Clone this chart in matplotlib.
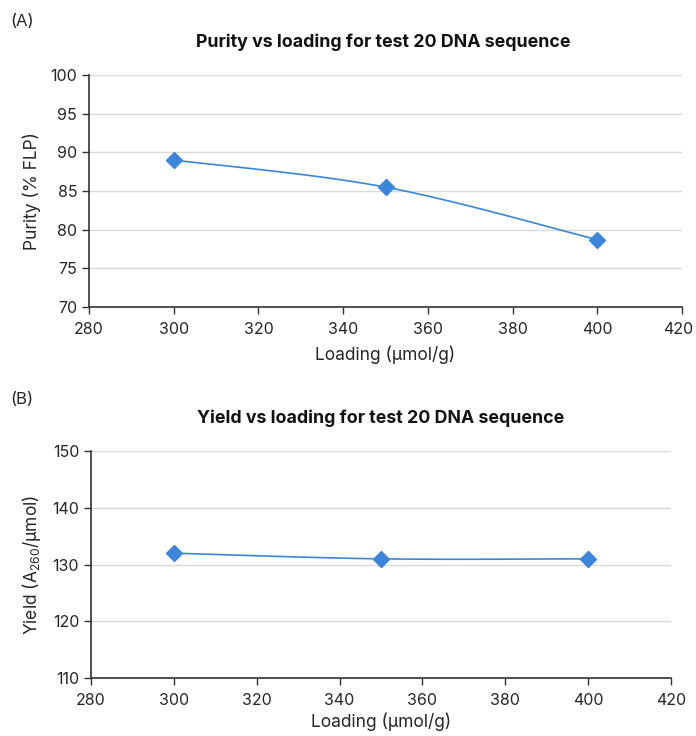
import numpy as np
import matplotlib
matplotlib.use("Agg")
import matplotlib.pyplot as plt
import matplotlib.transforms as mtransforms

plt.rcParams['font.family'] = ['Inter', 'DejaVu Sans']
plt.rcParams['mathtext.fontset'] = 'custom'
plt.rcParams['mathtext.rm'] = 'Inter'
plt.rcParams['mathtext.it'] = 'Inter'

# data
loading = [300, 350, 400]
purity = [89.0, 85.5, 78.7]
yield_a260 = [132.0, 131.0, 131.0]

blue = '#3B86DB'
gridc = '#D9D9D9'
axc = '#333333'
txtc = '#262626'


# Excel-like smoothed line (Catmull-Rom through the points)
def smooth(x, y, n=40):
    x = np.asarray(x, float)
    y = np.asarray(y, float)
    px = np.concatenate([[x[0]], x, [x[-1]]])
    py = np.concatenate([[y[0]], y, [y[-1]]])
    xs, ys = [], []
    t = np.linspace(0, 1, n)
    for i in range(1, len(px) - 2):
        p0, p1, p2, p3 = (np.array([px[j], py[j]]) for j in range(i - 1, i + 3))
        c1 = p1 + (p2 - p0) / 6
        c2 = p2 - (p3 - p1) / 6
        for tt in t:
            pt = ((1 - tt) ** 3 * p1 + 3 * (1 - tt) ** 2 * tt * c1
                  + 3 * (1 - tt) * tt ** 2 * c2 + tt ** 3 * p2)
            xs.append(pt[0])
            ys.append(pt[1])
    return xs, ys


def style(ax, ylim, ystep):
    ax.set_xlim(280, 420)
    ax.set_xticks(np.arange(280, 421, 20))
    ax.set_ylim(*ylim)
    ax.set_yticks(np.arange(ylim[0], ylim[1] + 0.1, ystep))
    ax.grid(axis='y', color=gridc, linewidth=1)
    ax.set_axisbelow(True)
    for s in ['top', 'right']:
        ax.spines[s].set_visible(False)
    for s in ['left', 'bottom']:
        ax.spines[s].set_color(axc)
        ax.spines[s].set_linewidth(1.2)
    ax.tick_params(colors=axc, labelcolor=txtc, labelsize=11.5,
                   length=5, width=1)
    ax.tick_params(axis='x', pad=6)


fig = plt.figure(figsize=(6.96, 7.36), dpi=100)

ax1 = fig.add_axes([0.1279, 0.5829, 0.8520, 0.3152])
sx, sy = smooth(loading, purity)
ax1.plot(sx, sy, color=blue, linewidth=1.2)
ax1.plot(loading, purity, linestyle='none', marker='D', markersize=8,
         color=blue)
style(ax1, (70, 100), 5)
ax1.set_xlabel('Loading (μmol/g)', fontsize=12.5, color=txtc, labelpad=6)
ax1.set_ylabel('Purity (% FLP)', fontsize=12.5, color=txtc, labelpad=7)
# last tick label sits at the figure edge: nudge it left a little
fig.canvas.draw()
lbl = ax1.get_xticklabels()[-1]
lbl.set_transform(lbl.get_transform() +
                  mtransforms.ScaledTranslation(-4 / 100, 0, fig.dpi_scale_trans))

ax2 = fig.add_axes([0.1307, 0.0788, 0.8333, 0.3084])
sx, sy = smooth(loading, yield_a260)
ax2.plot(sx, sy, color=blue, linewidth=1.2)
ax2.plot(loading, yield_a260, linestyle='none', marker='D', markersize=8,
         color=blue)
style(ax2, (110, 150), 10)
ax2.set_xlabel('Loading (μmol/g)', fontsize=12.5, color=txtc, labelpad=3)
ax2.set_ylabel('Yield (A$_{260}$/μmol)', fontsize=12.5, color=txtc,
               labelpad=7)

fig.text(383 / 696, 1 - 42 / 736, 'Purity vs loading for test 20 DNA sequence',
         ha='center', va='center', fontsize=12.8, fontweight='bold',
         color='#111111')
fig.text(381 / 696, 1 - 418 / 736, 'Yield vs loading for test 20 DNA sequence',
         ha='center', va='center', fontsize=12.8, fontweight='bold',
         color='#111111')
fig.text(10 / 696, 1 - 21 / 736, '(A)', ha='left', va='center', fontsize=12,
         color=txtc)
fig.text(10 / 696, 1 - 399 / 736, '(B)', ha='left', va='center', fontsize=12,
         color=txtc)

fig.savefig('out.png', dpi=100)
